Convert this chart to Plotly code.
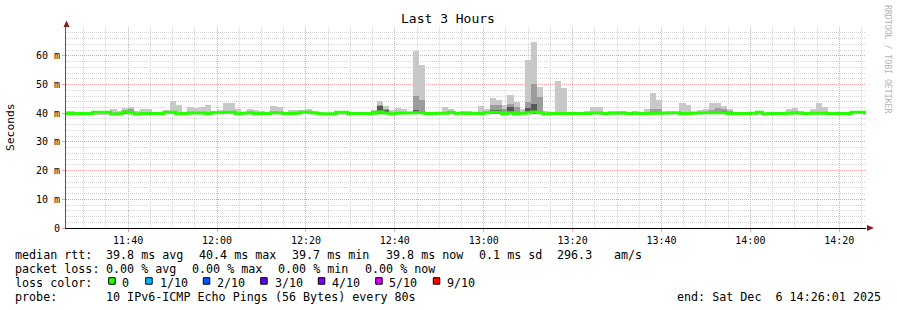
import plotly.graph_objects as go
from datetime import datetime, timedelta

# ---------------- data ----------------
STEP_S = 80
FIRST_STEP = "2025-12-06 11:25:22"
X_START = "2025-12-06 11:26:01"
X_END = "2025-12-06 14:26:01"
SMOKE_FLOOR = 39.6

median_ms = [
    39.9, 39.9, 39.9, 39.9, 39.9, 40.3, 40.3, 40.3, 39.7, 39.8,
    40.4, 40.1, 39.7, 39.9, 39.9, 39.9, 39.9, 40.3, 40.3, 39.8,
    39.9, 40.1, 40.1, 40.1, 39.9, 40.2, 40.2, 40.3, 40.3, 39.8,
    40.0, 40.2, 39.9, 39.9, 39.9, 40.2, 40.2, 39.9, 39.9, 40.0,
    40.3, 40.3, 40.1, 39.8, 39.8, 39.8, 40.3, 40.3, 39.9, 39.9,
    39.9, 39.9, 40.0, 40.4, 40.1, 39.8, 40.0, 40.1, 40.1, 40.2,
    40.2, 39.9, 39.9, 40.0, 40.0, 40.3, 40.0, 40.0, 39.9, 40.0,
    39.9, 40.2, 40.3, 40.3, 39.8, 40.2, 39.8, 40.0, 40.2, 40.4,
    40.2, 39.7, 39.9, 39.9, 39.9, 39.9, 39.9, 39.9, 39.9, 40.1,
    40.1, 39.9, 40.0, 40.0, 40.1, 39.9, 40.0, 39.9, 39.9, 40.0,
    40.0, 40.1, 40.2, 40.2, 39.9, 39.9, 40.1, 40.1, 40.2, 40.2,
    40.2, 40.2, 39.9, 39.9, 39.9, 39.9, 40.0, 40.3, 39.8, 39.9,
    39.9, 39.9, 40.0, 40.2, 40.0, 39.9, 40.0, 40.0, 40.0, 39.9,
    39.9, 39.9, 39.9, 40.3, 40.3, 40.3,
]

smoke_max_ms = [
    40.8, 40.8, 40.0, 40.5, 40.5, 40.0, 40.0, 40.0, 41.5, 40.8,
    41.8, 42.2, 40.8, 41.5, 41.5, 40.5, 40.0, 41.2, 44.3, 42.9,
    40.0, 42.2, 41.8, 42.2, 42.9, 40.8, 41.2, 43.6, 43.6, 41.5,
    40.5, 41.5, 41.2, 40.8, 40.0, 42.55, 42.2, 40.0, 41.2, 41.2,
    41.2, 41.5, 40.8, 40.5, 40.0, 40.0, 40.0, 40.0, 40.0, 40.0,
    40.0, 40.0, 41.2, 44.3, 42.55, 41.2, 41.85, 41.5, 40.5, 61.7,
    56.9, 40.0, 40.0, 40.5, 42.2, 41.5, 40.0, 40.8, 40.8, 40.5,
    42.55, 41.5, 45.3, 44.6, 42.9, 46.4, 43.9, 41.5, 58.6, 64.9,
    49.2, 40.8, 40.5, 51.3, 48.8, 40.0, 40.5, 40.5, 40.8, 42.2,
    42.2, 40.5, 40.8, 40.8, 40.8, 40.0, 40.8, 40.0, 41.5, 47.1,
    44.6, 40.5, 40.0, 40.5, 43.6, 42.9, 40.0, 41.2, 41.5, 43.6,
    43.6, 42.55, 41.5, 40.0, 40.0, 40.5, 40.5, 40.0, 40.0, 40.5,
    40.0, 40.5, 41.5, 41.85, 40.8, 40.5, 41.5, 43.6, 42.2, 40.0,
    40.0, 40.0, 40.0, 40.8, 40.8, 40.0,
]

smoke_mid_ms = [
    0, 0, 0, 0, 0, 0, 0, 0, 0, 0,
    41.0, 41.5, 0, 0, 0, 0, 0, 0, 0, 0,
    0, 0, 0, 0, 0, 0, 0, 0, 0, 0,
    0, 0, 0, 0, 0, 0, 0, 0, 0, 0,
    0, 0, 40.6, 0, 0, 0, 0, 0, 0, 0,
    0, 0, 40.8, 43.0, 41.6, 0, 0, 0, 0, 46.0,
    44.6, 0, 0, 0, 0, 0, 0, 0, 0, 0,
    0, 40.5, 42.9, 42.9, 41.5, 43.2, 42.2, 0, 43.9, 50.2,
    45.5, 0, 0, 0, 0, 0, 0, 0, 0, 0,
    0, 0, 0, 0, 0, 0, 0, 0, 0, 41.5,
    41.5, 0, 0, 0, 40.5, 0, 0, 0, 0, 41.0,
    41.8, 41.5, 40.8, 0, 0, 0, 0, 0, 0, 0,
    0, 0, 0, 0, 0, 0, 0, 0, 40.5, 0,
    0, 0, 0, 0, 0, 0,
]

smoke_dark_ms = [
    0, 0, 0, 0, 0, 0, 0, 0, 0, 0,
    40.6, 0, 0, 0, 0, 0, 0, 0, 0, 0,
    0, 0, 0, 0, 0, 0, 0, 0, 0, 0,
    0, 0, 0, 0, 0, 0, 0, 0, 0, 0,
    0, 0, 40.5, 0, 0, 0, 0, 0, 0, 0,
    0, 0, 0, 42.4, 41.2, 0, 0, 0, 0, 41.0,
    0, 0, 0, 0, 0, 0, 0, 0, 0, 0,
    0, 0, 41.0, 41.0, 0, 42.2, 0, 0, 41.8, 43.2,
    0, 0, 0, 0, 0, 0, 0, 0, 0, 0,
    0, 0, 0, 0, 0, 0, 0, 0, 0, 0,
    0, 0, 0, 0, 0, 0, 0, 0, 0, 0,
    0, 40.8, 40.5, 0, 0, 0, 0, 0, 0, 0,
    0, 0, 0, 0, 0, 0, 0, 0, 0, 0,
    0, 0, 0, 0, 0, 0,
]

y_tick_vals = [0, 10, 20, 30, 40, 50, 60]
y_tick_text = ["0", "10 m", "20 m", "30 m", "40 m", "50 m", "60 m"]
x_tick_vals = ["2025-12-06 11:40:00", "2025-12-06 12:00:00", "2025-12-06 12:20:00",
               "2025-12-06 12:40:00", "2025-12-06 13:00:00", "2025-12-06 13:20:00",
               "2025-12-06 13:40:00", "2025-12-06 14:00:00", "2025-12-06 14:20:00"]
x_tick_text = ["11:40", "12:00", "12:20", "12:40", "13:00", "13:20", "13:40", "14:00", "14:20"]

loss_labels = ["0", "1/10", "2/10", "3/10", "4/10", "5/10", "9/10"]
loss_colors = ["#26ff00", "#00b8ff", "#0059ff", "#5e00ff", "#7e00ff", "#dd00ff", "#ff0000"]

# ---------------- geometry helpers ----------------
W, H = 897, 310
L, R, T, B = 66, 31, 27, 82
PW, PH = W - L - R, H - T - B
MONO = "DejaVu Sans Mono"


def px(xp):
    return (xp - L) / PW


def py(yp):
    return (H - B - yp) / PH


# ---------------- traces ----------------
t0 = datetime.strptime(FIRST_STEP, "%Y-%m-%d %H:%M:%S")
n = len(median_ms)
centers = [t0 + timedelta(seconds=STEP_S * k + STEP_S / 2) for k in range(n)]
edges = [t0 + timedelta(seconds=STEP_S * k) for k in range(n + 1)]


def layer(vals):
    return [max(v - SMOKE_FLOOR, 0) for v in vals]


fig = go.Figure()
for vals, col in [(smoke_max_ms, "#c8c8c8"), (smoke_mid_ms, "#9c9c9c"), (smoke_dark_ms, "#585858")]:
    fig.add_trace(go.Bar(
        x=centers, y=layer(vals), base=SMOKE_FLOOR, width=STEP_S * 1000 * 1.06,
        marker=dict(color=col, line=dict(width=0)),
        hoverinfo="skip",
    ))

fig.add_trace(go.Scatter(
    x=edges, y=median_ms + [median_ms[-1]], mode="lines",
    line=dict(color=loss_colors[0], width=3, shape="hv"),
    hoverinfo="skip",
))

GRID_MAJOR = "#f2a4a4"
GRID_MINOR = "#d6d6d6"
DASH = "1px,1px"

fig.update_layout(
    width=W, height=H,
    margin=dict(l=L, r=R, t=T, b=B, pad=0),
    paper_bgcolor="white", plot_bgcolor="white",
    showlegend=False, barmode="overlay", bargap=0,
    font=dict(family=MONO, size=10, color="#000000"),
    xaxis=dict(
        type="date", range=[X_START, X_END],
        tickmode="array", tickvals=x_tick_vals, ticktext=x_tick_text,
        showgrid=True, gridcolor=GRID_MAJOR, griddash=DASH, gridwidth=1,
        minor=dict(dtick=300000, tick0="2025-12-06 11:40:00", showgrid=True,
                   gridcolor=GRID_MINOR, griddash=DASH, gridwidth=1),
        showline=True, linecolor="#000000", linewidth=1,
        ticks="outside", ticklen=3, tickcolor=GRID_MAJOR,
        zeroline=False, tickfont=dict(family=MONO, size=10, color="#000"),
    ),
    yaxis=dict(
        range=[0, 70.05],
        tickmode="array", tickvals=y_tick_vals, ticktext=y_tick_text,
        showgrid=True, gridcolor=GRID_MAJOR, griddash=DASH, gridwidth=1,
        minor=dict(dtick=2, tick0=0, showgrid=True,
                   gridcolor=GRID_MINOR, griddash=DASH, gridwidth=1),
        showline=True, linecolor="#555555", linewidth=1,
        ticks="outside", ticklen=3, tickcolor=GRID_MAJOR,
        zeroline=False, tickfont=dict(family=MONO, size=10, color="#000"),
    ),
)

# axis arrows
ARROW = "#8b1a1a"
fig.add_shape(type="path", xref="paper", yref="paper",
              path=f"M {px(66.5)},{py(20.5)} L {px(63.5)},{py(27)} L {px(69.5)},{py(27)} Z",
              fillcolor=ARROW, line=dict(width=0))
fig.add_shape(type="path", xref="paper", yref="paper",
              path=f"M {px(874)},{py(228)} L {px(867)},{py(225)} L {px(867)},{py(231)} Z",
              fillcolor=ARROW, line=dict(width=0))


def ann(text, xp, yp, xanchor="left", size=11.7, color="#000000", angle=0):
    fig.add_annotation(
        text=text.replace(" ", "\u00a0"), x=px(xp), y=py(yp), xref="paper", yref="paper",
        xanchor=xanchor, yanchor="middle", showarrow=False, textangle=angle,
        font=dict(family=MONO, size=size, color=color), borderpad=0, borderwidth=0,
    )


ann("Last 3 Hours", 448, 19, xanchor="center", size=13)
ann("Seconds", 11, 127, xanchor="center", size=11.3, angle=-90)
ann("RRDTOOL / TOBI OETIKER", 888, 59, xanchor="center", size=8.2, color="#b4b4b4", angle=90)

# legend row 1
row1 = [("median rtt:", 16), ("39.8 ms avg", 107), ("40.4 ms max", 199.5), ("39.7 ms min", 292.5),
        ("39.8 ms now", 386.5), ("0.1 ms sd", 479.5), ("296.3", 558), ("am/s", 615)]
for txt, xp in row1:
    ann(txt, xp - 1, 254.5)
row2 = [("packet loss:", 16), ("0.00 % avg", 107), ("0.00 % max", 193), ("0.00 % min", 279),
        ("0.00 % now", 365.5)]
for txt, xp in row2:
    ann(txt, xp - 1, 268.5)
ann("loss color:", 15, 282.5)
sq_x = [108.7, 145.7, 203.3, 260.7, 318.3, 375.7, 433.3]
lab_x = [123.3, 160.7, 218.3, 276, 332.7, 390, 448]
for lab, col, sx, lx in zip(loss_labels, loss_colors, sq_x, lab_x):
    fig.add_shape(type="rect", xref="paper", yref="paper",
                  x0=px(sx), x1=px(sx + 6.5), y0=py(284.2), y1=py(277.7),
                  fillcolor=col, line=dict(color="#000000", width=1))
    ann(lab, lx - 1, 282.5)
ann("probe:", 15, 296.5)
ann("10 IPv6-ICMP Echo Pings (56 Bytes) every 80s", 106, 296.5)
ann("end: Sat Dec  6 14:26:01 2025", 881, 296.5, xanchor="right")

fig.write_html("out.html")
